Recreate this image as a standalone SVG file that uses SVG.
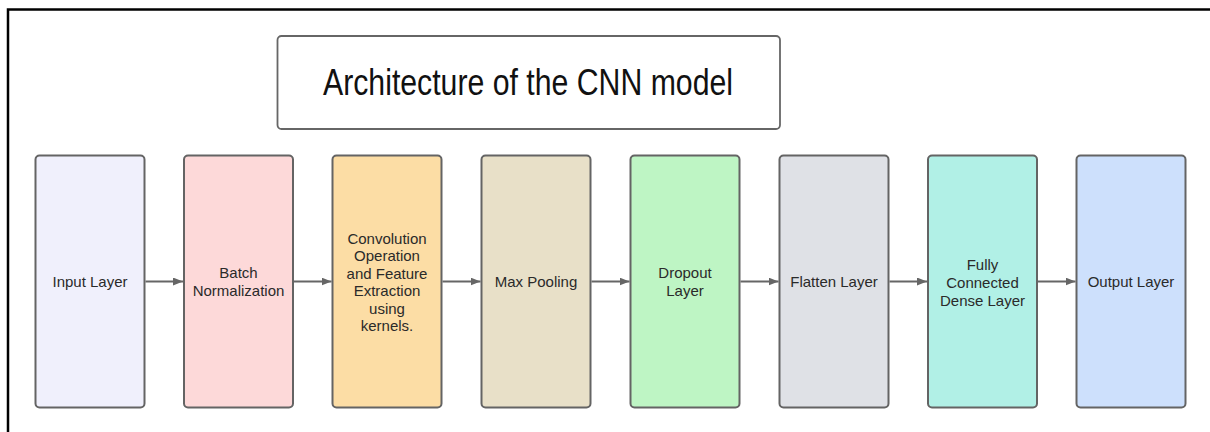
<svg xmlns="http://www.w3.org/2000/svg" width="1210" height="432" viewBox="0 0 1210 432">
<style>
.node{stroke:#646464;stroke-width:2}
.lbl{font-family:"Liberation Sans",Arial,sans-serif;font-size:15px;fill:#2a2a2a;text-anchor:middle}
.title{font-family:"Liberation Sans",Arial,sans-serif;font-size:37px;fill:#111;text-anchor:middle}
.conn{stroke:#666;stroke-width:1.8;fill:none}
</style>
<defs>
<marker id="ah" viewBox="0 0 10 8" refX="10" refY="4" markerWidth="10" markerHeight="8" markerUnits="userSpaceOnUse" orient="auto">
<path d="M0,0 L10,4 L0,8 Z" fill="#666"/>
</marker>
</defs>
<rect width="1210" height="432" fill="#fff"/>
<g id="frame">
<path d="M8,432 V9.5 H1210" fill="none" stroke="#000" stroke-width="2.5"/>
</g>
<g id="title">
<rect x="277.5" y="36" width="502.5" height="93" rx="4" fill="#fff" stroke="#666" stroke-width="1.8"/>
<text class="title" x="528" y="95" textLength="410" lengthAdjust="spacingAndGlyphs">Architecture of the CNN model</text>
</g>
<g id="input">
<rect class="node" x="35.5" y="155.5" width="109" height="252" rx="4" fill="#f0f0fc"/>
<text class="lbl" x="90" y="287">Input Layer</text>
</g>
<g id="batch">
<rect class="node" x="184" y="155.5" width="109" height="252" rx="4" fill="#fdd9d9"/>
<text class="lbl" x="238.5" y="278">Batch</text>
<text class="lbl" x="238.5" y="296">Normalization</text>
</g>
<g id="conv">
<rect class="node" x="332.5" y="155.5" width="109" height="252" rx="4" fill="#fcdda5"/>
<text class="lbl" x="387" y="243.5">Convolution</text>
<text class="lbl" x="387" y="261">Operation</text>
<text class="lbl" x="387" y="278.5">and Feature</text>
<text class="lbl" x="387" y="296">Extraction</text>
<text class="lbl" x="387" y="313.5">using</text>
<text class="lbl" x="387" y="331">kernels.</text>
</g>
<g id="maxpool">
<rect class="node" x="481.5" y="155.5" width="109" height="252" rx="4" fill="#e8e0c8"/>
<text class="lbl" x="536" y="287">Max Pooling</text>
</g>
<g id="dropout">
<rect class="node" x="630.5" y="155.5" width="109" height="252" rx="4" fill="#bef5c4"/>
<text class="lbl" x="685" y="278">Dropout</text>
<text class="lbl" x="685" y="296">Layer</text>
</g>
<g id="flatten">
<rect class="node" x="779.5" y="155.5" width="109" height="252" rx="4" fill="#dfe1e6"/>
<text class="lbl" x="834" y="287">Flatten Layer</text>
</g>
<g id="dense">
<rect class="node" x="928" y="155.5" width="109" height="252" rx="4" fill="#b1f0e6"/>
<text class="lbl" x="982.5" y="269.5">Fully</text>
<text class="lbl" x="982.5" y="287.5">Connected</text>
<text class="lbl" x="982.5" y="305.5">Dense Layer</text>
</g>
<g id="output">
<rect class="node" x="1076.5" y="155.5" width="109" height="252" rx="4" fill="#cde0fc"/>
<text class="lbl" x="1131" y="287">Output Layer</text>
</g>
<g id="connectors">
<line class="conn" x1="145.5" y1="281.5" x2="183" y2="281.5" marker-end="url(#ah)"/>
<line class="conn" x1="294" y1="281.5" x2="331.5" y2="281.5" marker-end="url(#ah)"/>
<line class="conn" x1="442.5" y1="281.5" x2="480.5" y2="281.5" marker-end="url(#ah)"/>
<line class="conn" x1="591.5" y1="281.5" x2="629.5" y2="281.5" marker-end="url(#ah)"/>
<line class="conn" x1="740.5" y1="281.5" x2="778.5" y2="281.5" marker-end="url(#ah)"/>
<line class="conn" x1="889.5" y1="281.5" x2="927" y2="281.5" marker-end="url(#ah)"/>
<line class="conn" x1="1038" y1="281.5" x2="1075.5" y2="281.5" marker-end="url(#ah)"/>
</g>
</svg>
